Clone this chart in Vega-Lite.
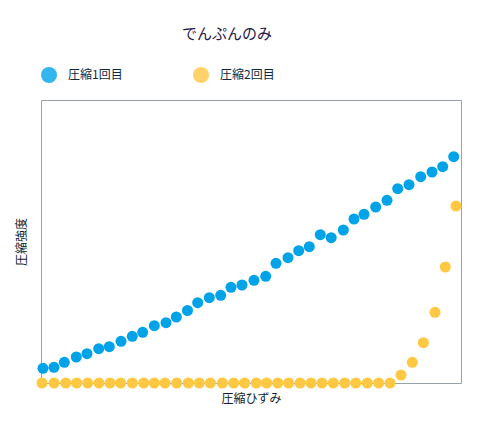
{
  "$schema": "https://vega.github.io/schema/vega-lite/v6.json",
  "autosize": {"type": "none"},
  "width": 420,
  "height": 283,
  "padding": {"left": 41, "top": 100, "right": 34, "bottom": 52},
  "background": "white",
  "config": {
    "font": "Noto Sans CJK JP",
    "view": {"stroke": "#97A3AB", "strokeWidth": 1}
  },
  "title": {
    "text": "でんぷんのみ",
    "fontSize": 15,
    "fontWeight": "normal",
    "color": "#1F1A4A",
    "anchor": "middle",
    "dx": -24,
    "offset": 25
  },
  "data": {
    "values": [
      {"series": "圧縮1回目", "strain": 0.2, "strength": 5.19},
      {"series": "圧縮1回目", "strain": 1.3, "strength": 5.55},
      {"series": "圧縮1回目", "strain": 2.33, "strength": 7.31},
      {"series": "圧縮1回目", "strain": 3.53, "strength": 9.19},
      {"series": "圧縮1回目", "strain": 4.6, "strength": 10.35},
      {"series": "圧縮1回目", "strain": 5.77, "strength": 12.12},
      {"series": "圧縮1回目", "strain": 6.83, "strength": 12.83},
      {"series": "圧縮1回目", "strain": 8.0, "strength": 14.73},
      {"series": "圧縮1回目", "strain": 9.13, "strength": 16.5},
      {"series": "圧縮1回目", "strain": 10.17, "strength": 17.91},
      {"series": "圧縮1回目", "strain": 11.33, "strength": 20.25},
      {"series": "圧縮1回目", "strain": 12.5, "strength": 21.31},
      {"series": "圧縮1回目", "strain": 13.53, "strength": 23.32},
      {"series": "圧縮1回目", "strain": 14.65, "strength": 25.62},
      {"series": "圧縮1回目", "strain": 15.67, "strength": 28.37},
      {"series": "圧縮1回目", "strain": 16.83, "strength": 30.14},
      {"series": "圧縮1回目", "strain": 17.97, "strength": 30.99},
      {"series": "圧縮1回目", "strain": 19.0, "strength": 33.82},
      {"series": "圧縮1回目", "strain": 20.1, "strength": 34.63},
      {"series": "圧縮1回目", "strain": 21.3, "strength": 36.29},
      {"series": "圧縮1回目", "strain": 22.47, "strength": 37.7},
      {"series": "圧縮1回目", "strain": 23.5, "strength": 42.3},
      {"series": "圧縮1回目", "strain": 24.7, "strength": 44.28},
      {"series": "圧縮1回目", "strain": 25.77, "strength": 46.75},
      {"series": "圧縮1回目", "strain": 26.83, "strength": 48.16},
      {"series": "圧縮1回目", "strain": 27.93, "strength": 52.4},
      {"series": "圧縮1回目", "strain": 29.02, "strength": 51.34},
      {"series": "圧縮1回目", "strain": 30.23, "strength": 54.06},
      {"series": "圧縮1回目", "strain": 31.3, "strength": 57.95},
      {"series": "圧縮1回目", "strain": 32.3, "strength": 59.61},
      {"series": "圧縮1回目", "strain": 33.47, "strength": 62.19},
      {"series": "圧縮1回目", "strain": 34.6, "strength": 64.56},
      {"series": "圧縮1回目", "strain": 35.67, "strength": 68.66},
      {"series": "圧縮1回目", "strain": 36.8, "strength": 70.07},
      {"series": "圧縮1回目", "strain": 37.97, "strength": 72.9},
      {"series": "圧縮1回目", "strain": 39.1, "strength": 74.56},
      {"series": "圧縮1回目", "strain": 40.17, "strength": 76.43},
      {"series": "圧縮1回目", "strain": 41.27, "strength": 79.96},
      {"series": "圧縮2回目", "strain": 0.1, "strength": 0},
      {"series": "圧縮2回目", "strain": 1.3, "strength": 0},
      {"series": "圧縮2回目", "strain": 2.47, "strength": 0},
      {"series": "圧縮2回目", "strain": 3.57, "strength": 0},
      {"series": "圧縮2回目", "strain": 4.67, "strength": 0},
      {"series": "圧縮2回目", "strain": 5.8, "strength": 0},
      {"series": "圧縮2回目", "strain": 6.9, "strength": 0},
      {"series": "圧縮2回目", "strain": 7.97, "strength": 0},
      {"series": "圧縮2回目", "strain": 9.13, "strength": 0},
      {"series": "圧縮2回目", "strain": 10.27, "strength": 0},
      {"series": "圧縮2回目", "strain": 11.33, "strength": 0},
      {"series": "圧縮2回目", "strain": 12.4, "strength": 0},
      {"series": "圧縮2回目", "strain": 13.57, "strength": 0},
      {"series": "圧縮2回目", "strain": 14.73, "strength": 0},
      {"series": "圧縮2回目", "strain": 15.83, "strength": 0},
      {"series": "圧縮2回目", "strain": 16.93, "strength": 0},
      {"series": "圧縮2回目", "strain": 18.13, "strength": 0},
      {"series": "圧縮2回目", "strain": 19.27, "strength": 0},
      {"series": "圧縮2回目", "strain": 20.37, "strength": 0},
      {"series": "圧縮2回目", "strain": 21.53, "strength": 0},
      {"series": "圧縮2回目", "strain": 22.57, "strength": 0},
      {"series": "圧縮2回目", "strain": 23.67, "strength": 0},
      {"series": "圧縮2回目", "strain": 24.77, "strength": 0},
      {"series": "圧縮2回目", "strain": 25.9, "strength": 0},
      {"series": "圧縮2回目", "strain": 27.0, "strength": 0},
      {"series": "圧縮2回目", "strain": 28.1, "strength": 0},
      {"series": "圧縮2回目", "strain": 29.23, "strength": 0},
      {"series": "圧縮2回目", "strain": 30.37, "strength": 0},
      {"series": "圧縮2回目", "strain": 31.47, "strength": 0},
      {"series": "圧縮2回目", "strain": 32.63, "strength": 0},
      {"series": "圧縮2回目", "strain": 33.77, "strength": 0},
      {"series": "圧縮2回目", "strain": 34.9, "strength": 0},
      {"series": "圧縮2回目", "strain": 36.0, "strength": 2.83},
      {"series": "圧縮2回目", "strain": 37.13, "strength": 7.31},
      {"series": "圧縮2回目", "strain": 38.23, "strength": 14.24},
      {"series": "圧縮2回目", "strain": 39.4, "strength": 24.98},
      {"series": "圧縮2回目", "strain": 40.43, "strength": 40.99},
      {"series": "圧縮2回目", "strain": 41.5, "strength": 62.54}
    ]
  },
  "mark": {"type": "circle", "size": 121, "opacity": 1},
  "encoding": {
    "x": {
      "field": "strain",
      "type": "quantitative",
      "scale": {"domain": [0, 42], "nice": false, "zero": false},
      "axis": {
        "title": "圧縮ひずみ",
        "domain": false,
        "ticks": false,
        "labels": false,
        "grid": false,
        "titleFontSize": 12,
        "titleFontWeight": "normal",
        "titleColor": "#0F1F2F",
        "titlePadding": 10
      }
    },
    "y": {
      "field": "strength",
      "type": "quantitative",
      "scale": {"domain": [0, 100], "nice": false},
      "axis": {
        "title": "圧縮強度",
        "domain": false,
        "ticks": false,
        "labels": false,
        "grid": false,
        "titleFontSize": 12,
        "titleFontWeight": "normal",
        "titleColor": "#0F1F2F",
        "titlePadding": 13
      }
    },
    "color": {
      "field": "series",
      "type": "nominal",
      "scale": {"domain": ["圧縮1回目", "圧縮2回目"], "range": ["#00A3E8", "#FFC843"]},
      "legend": {
        "title": null,
        "orient": "none",
        "legendX": 0,
        "legendY": -33,
        "direction": "horizontal",
        "symbolType": "circle",
        "symbolSize": 256,
        "symbolStrokeWidth": 0,
        "symbolOpacity": 0.8,
        "labelOffset": 11,
        "columnPadding": 70,
        "labelFontSize": 12,
        "labelColor": "#0F2A3F"
      }
    }
  }
}
